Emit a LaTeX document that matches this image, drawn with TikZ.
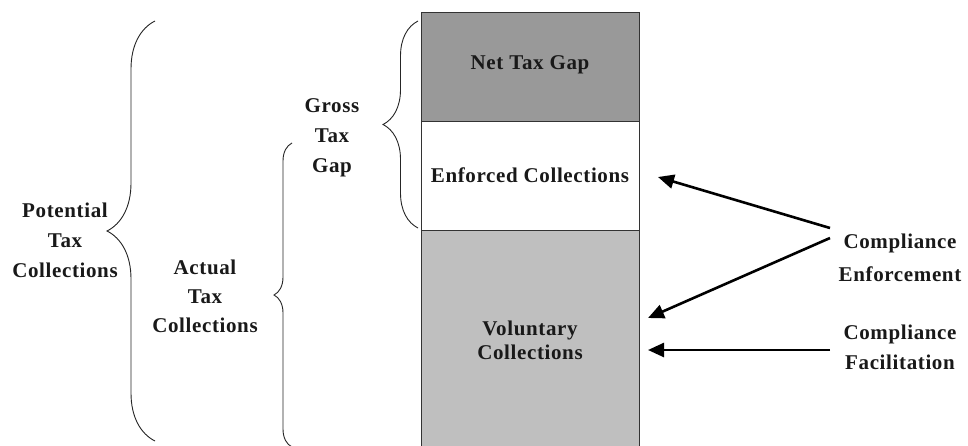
\documentclass[tikz,border=0pt]{standalone}
\usepackage{fontspec}
\setmainfont{Liberation Serif}[LetterSpace=3]
\usetikzlibrary{arrows.meta,decorations.pathreplacing}
\tikzset{
  lbl/.style={align=center, text=black!90, font=\fontsize{21}{30}\selectfont\bfseries, inner sep=0pt},
  bar/.style={draw=black!80, line width=0.9pt, anchor=north west, minimum width=218pt, inner sep=0pt},
  brc/.style={draw=black!85, line width=0.9pt, decorate, decoration={brace, amplitude=#1}},
  arr/.style={line width=2.6pt, -{Triangle[length=16pt,width=14pt]}}
}
\begin{document}
\begin{tikzpicture}[x=1pt,y=-1pt]
\useasboundingbox (0,0) rectangle (968,445);
\clip (0,0) rectangle (968,445);
\fill[white] (0,0) rectangle (968,445);
% bars
\node[bar, fill=black!40, minimum height=109pt] (net) at (421,12) {};
\node[bar, fill=white, minimum height=109pt] (enf) at (421,121) {};
\node[bar, fill=black!25, minimum height=222pt] (vol) at (421,230) {};
\node[lbl] (netl) at (530,65) {Net Tax Gap};
\node[lbl] (enfl) at (530,175) {Enforced Collections};
\node[lbl, font=\fontsize{21}{24}\selectfont\bfseries] (voll) at (530,340) {Voluntary\\Collections};
% braces
\coordinate (pb) at (155,441); \coordinate (pt) at (155,21);
\coordinate (ab) at (292,447); \coordinate (at) at (292,143);
\coordinate (gb) at (418,228); \coordinate (gt) at (418,21);
\draw[brc=48pt] (pb) -- (pt);
\draw[brc=18pt] (ab) -- (at);
\draw[brc=35pt] (gb) -- (gt);
\node[lbl] (pot) at (65,240) {Potential\\Tax\\Collections};
\node[lbl, font=\fontsize{21}{29}\selectfont\bfseries] (act) at (205,296) {Actual\\Tax\\Collections};
\node[lbl] (gro) at (332,138) {Gross\\Tax\\Gap};
% right labels
\node[lbl, font=\fontsize{21}{33}\selectfont\bfseries] (ce) at (900,258) {Compliance\\Enforcement};
\node[lbl] (cf) at (900,347) {Compliance\\Facilitation};
\coordinate (ce1) at (830,228); \coordinate (ce2) at (830,238); \coordinate (cf1) at (830,350);
\coordinate (t1) at (658,177); \coordinate (t2) at (648,318); \coordinate (t3) at (648,350);
\draw[arr] (ce1) -- (t1);
\draw[arr] (ce2) -- (t2);
\draw[arr] (cf1) -- (t3);
\end{tikzpicture}
\end{document}
